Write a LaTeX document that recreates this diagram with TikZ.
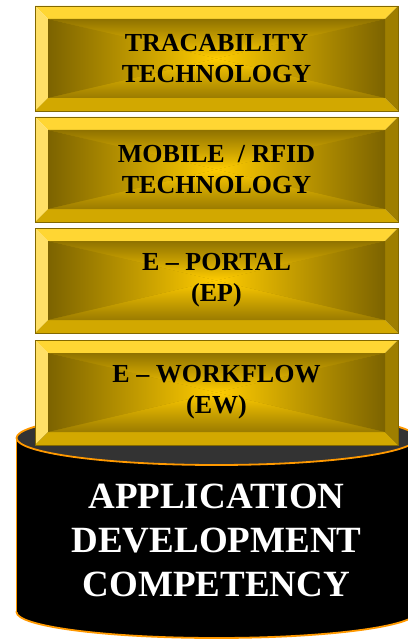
\documentclass[tikz,border=0pt]{standalone}
\usepackage{fontspec}
\setmainfont{Liberation Serif}
\definecolor{gcenter}{RGB}{255,204,0}
\definecolor{gedgeside}{RGB}{124,99,0}
\definecolor{gedgetop}{RGB}{143,114,0}
\definecolor{gedgebot}{RGB}{154,123,0}
\definecolor{gbase}{RGB}{176,140,0}
\definecolor{btopc}{RGB}{255,214,51}
\definecolor{bleftc}{RGB}{255,224,102}
\definecolor{bbotc}{RGB}{210,168,0}
\definecolor{brightc}{RGB}{158,126,0}
\definecolor{gborder}{RGB}{130,104,0}
\definecolor{cylorange}{RGB}{255,153,0}
\definecolor{cyltop}{RGB}{51,51,51}
\tikzset{
  btop/.style={fill=btopc},
  bleft/.style={fill=bleftc},
  bbot/.style={fill=bbotc},
  bright/.style={fill=brightc},
  goldborder/.style={draw=gborder, line width=0.8pt},
  boxtext/.style={font=\bfseries\fontsize{26}{31}\selectfont, align=center, text=black, inner sep=0pt},
  cyltext/.style={font=\bfseries\fontsize{37}{44}\selectfont, align=center, text=white, inner sep=0pt},
  cylline/.style={draw=cylorange, line width=1.8pt},
}
\newcommand\goldbox[3]{%
  \fill[btop] (35,#2) -- (398,#2) -- (385,{#2+13}) -- (48,{#2+13}) -- cycle;
  \fill[bleft] (35,#2) -- (48,{#2+13}) -- (48,{#2+92}) -- (35,{#2+105}) -- cycle;
  \fill[bbot] (35,{#2+105}) -- (48,{#2+92}) -- (385,{#2+92}) -- (398,{#2+105}) -- cycle;
  \fill[bright] (398,#2) -- (398,{#2+105}) -- (385,{#2+92}) -- (385,{#2+13}) -- cycle;
  \fill[gbase] (48,{#2+13}) rectangle (385,{#2+92});
  \shade[top color=gedgetop, bottom color=gcenter] (48,{#2+13}) -- (385,{#2+13}) -- (216.5,{#2+52.5}) -- cycle;
  \shade[top color=gcenter, bottom color=gedgebot] (48,{#2+92}) -- (385,{#2+92}) -- (216.5,{#2+52.5}) -- cycle;
  \shade[left color=gedgeside, right color=gcenter] (48,{#2+13}) -- (216.5,{#2+52.5}) -- (48,{#2+92}) -- cycle;
  \shade[left color=gcenter, right color=gedgeside] (385,{#2+13}) -- (216.5,{#2+52.5}) -- (385,{#2+92}) -- cycle;
  \draw[goldborder] (35,#2) rectangle (398,{#2+105});
  \node[boxtext] (#1) at (216.5,{#2+52.5}) {#3};
}
\begin{document}
\begin{tikzpicture}[x=1pt,y=-1pt]
\useasboundingbox (0,0) rectangle (407,639);
% cylinder
\filldraw[fill=black, cylline] (216.5,612) ellipse [x radius=200, y radius=26];
\fill[black] (16.5,438) rectangle (416.5,612);
\draw[cylline] (16.5,438) -- (16.5,612);
\draw[cylline] (416.5,438) -- (416.5,612);
\filldraw[fill=cyltop, cylline] (216.5,438) ellipse [x radius=200, y radius=27];
\node[cyltext] (adc) at (216.5,540) {APPLICATION\\DEVELOPMENT\\COMPETENCY};
% boxes
\goldbox{trace}{6}{TRACABILITY\\TECHNOLOGY}
\goldbox{mobile}{117}{MOBILE\ \ / RFID\\TECHNOLOGY}
\goldbox{portal}{228}{E -- PORTAL\\(EP)}
\goldbox{workflow}{340}{E -- WORKFLOW\\(EW)}
\end{tikzpicture}
\end{document}
